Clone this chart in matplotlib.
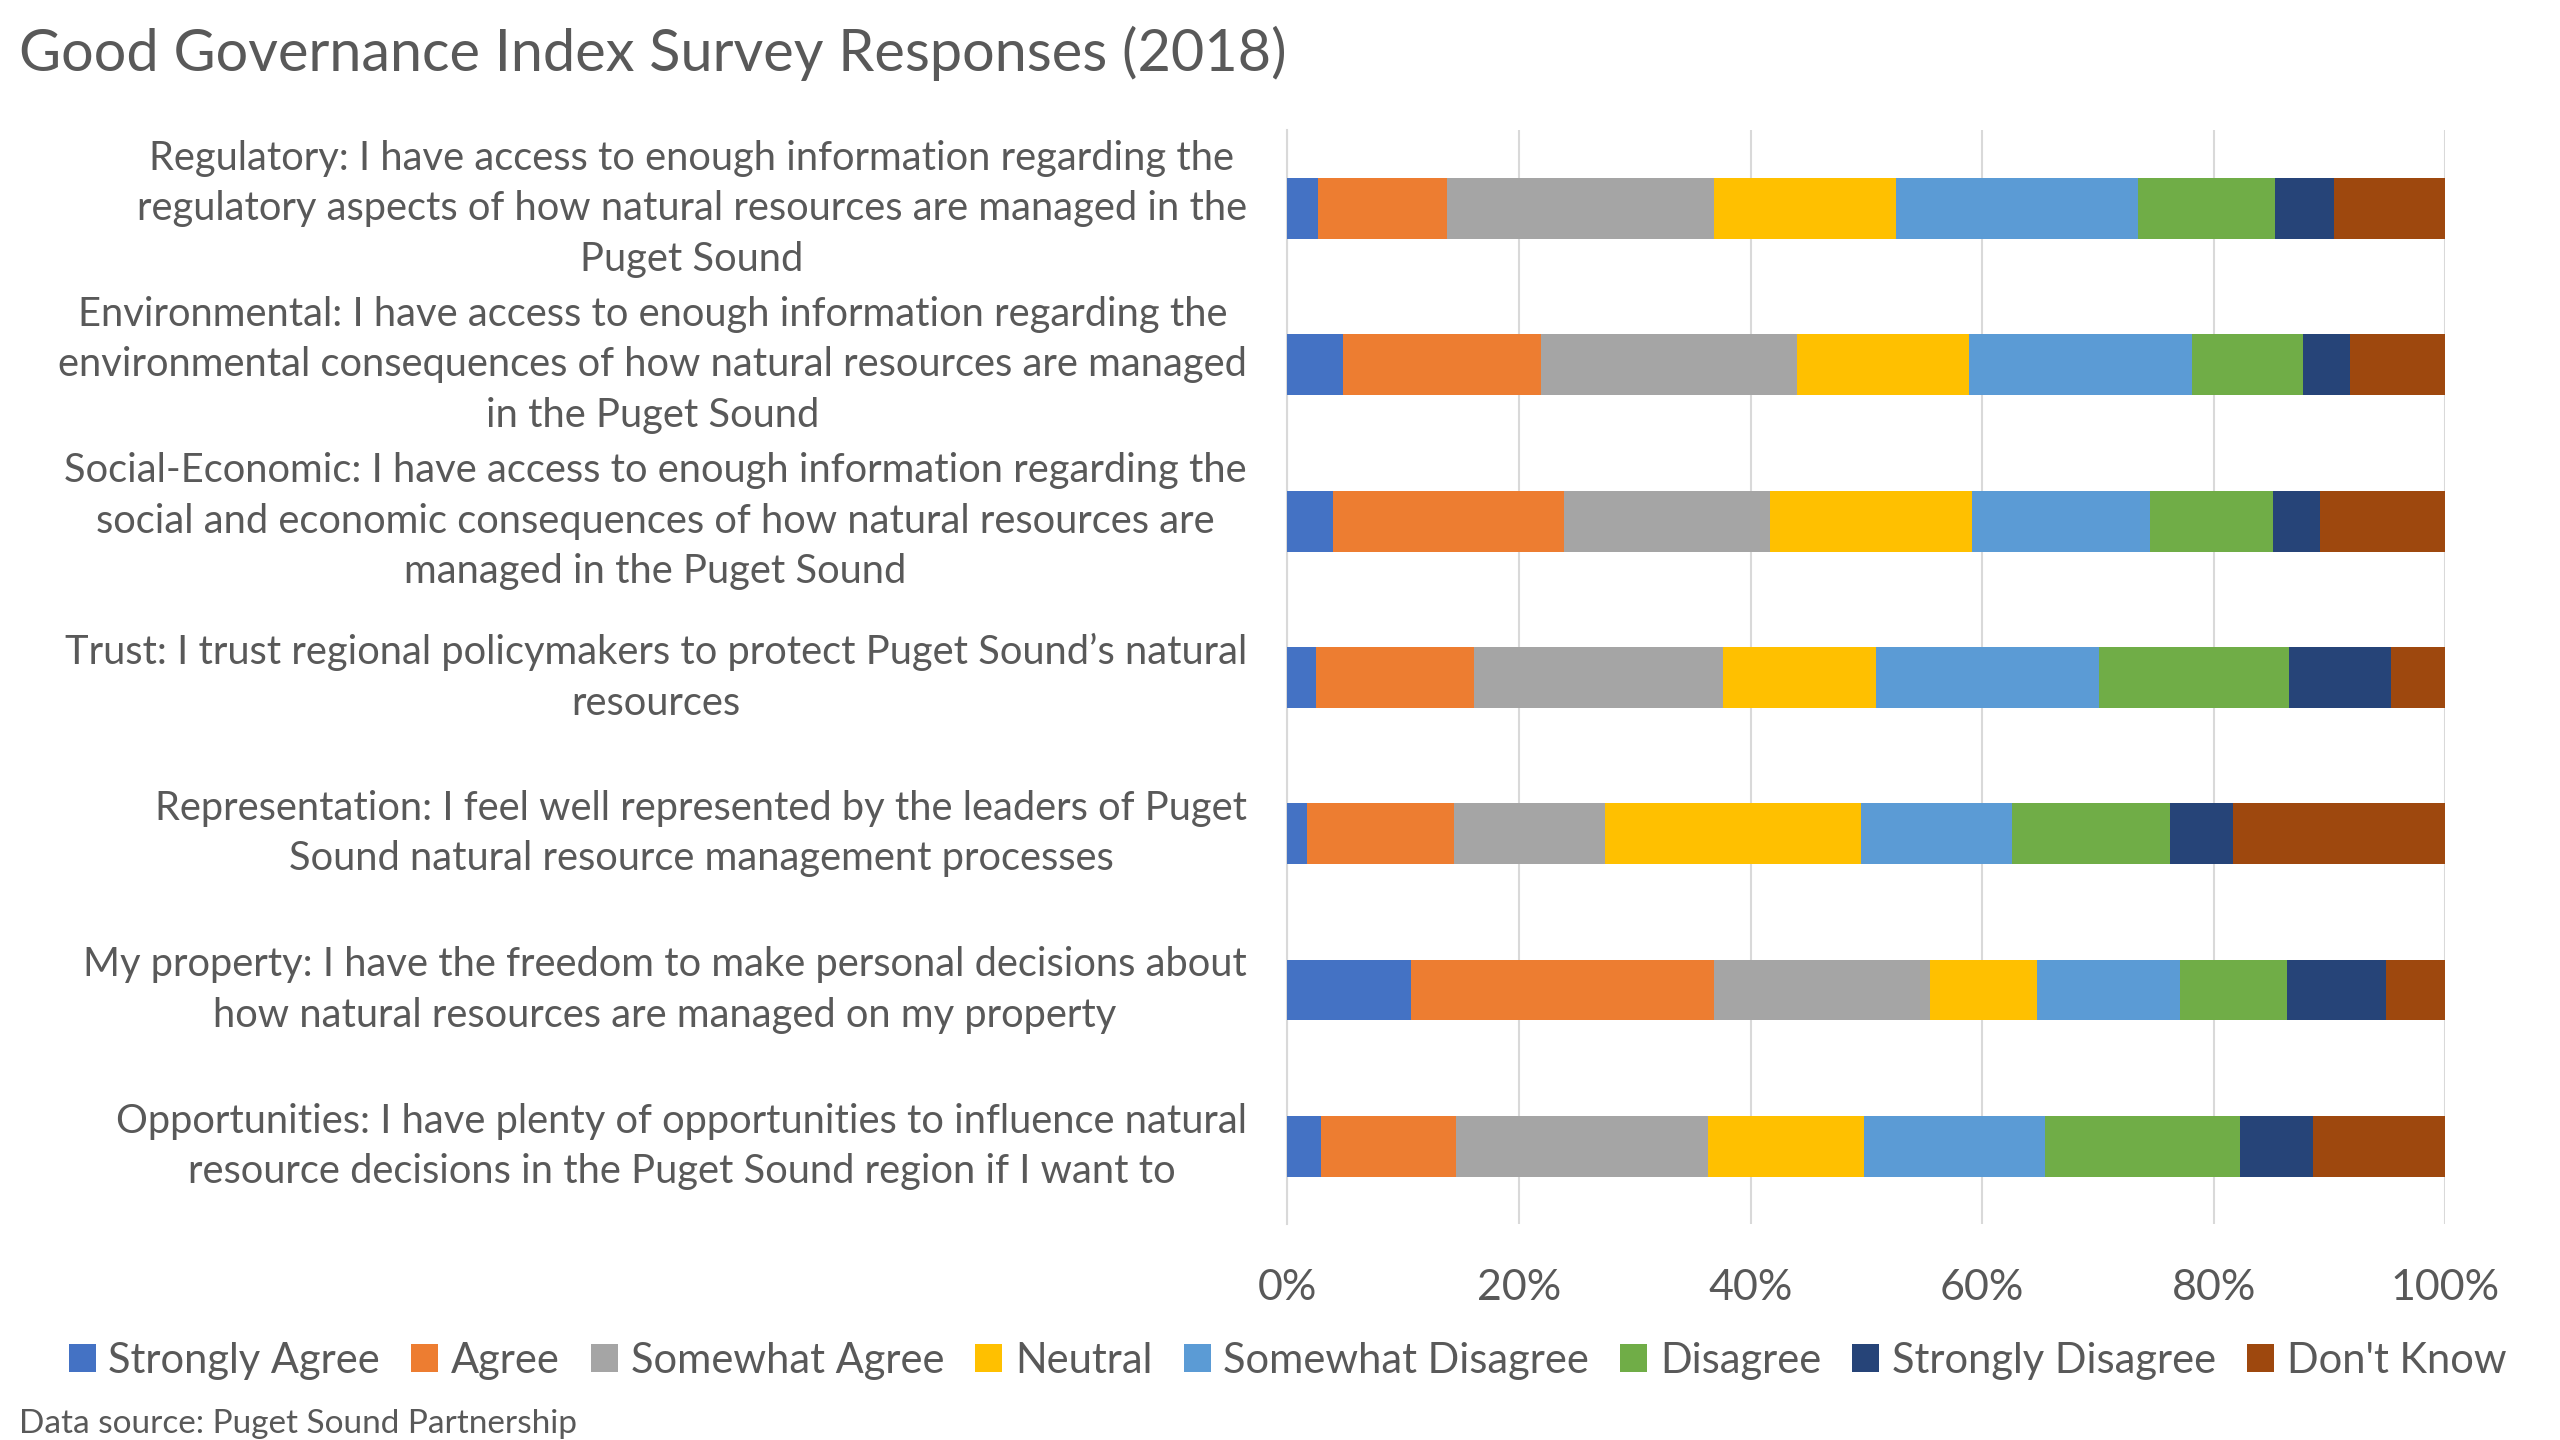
import numpy as np
import matplotlib
matplotlib.use("Agg")
import matplotlib.pyplot as plt

plt.rcParams['font.family'] = ['Lato', 'DejaVu Sans']

# survey questions, top to bottom
questions = [
    "Regulatory: I have access to enough information regarding the\nregulatory aspects of how natural resources are managed in the\nPuget Sound",
    "Environmental: I have access to enough information regarding the\nenvironmental consequences of how natural resources are managed\nin the Puget Sound",
    "Social-Economic: I have access to enough information regarding the\nsocial and economic consequences of how natural resources are\nmanaged in the Puget Sound",
    "Trust: I trust regional policymakers to protect Puget Sound\u2019s natural\nresources",
    "Representation: I feel well represented by the leaders of Puget\nSound natural resource management processes",
    "My property: I have the freedom to make personal decisions about\nhow natural resources are managed on my property",
    "Opportunities: I have plenty of opportunities to influence natural\nresource decisions in the Puget Sound region if I want to",
]

responses = ["Strongly Agree", "Agree", "Somewhat Agree", "Neutral",
             "Somewhat Disagree", "Disagree", "Strongly Disagree", "Don't Know"]

# share of respondents (%), one list per response, same order as questions
strongly_agree    = [2.6, 4.8, 3.9, 2.5, 1.7, 10.7, 2.9]
agree             = [11.2, 17.1, 20.0, 13.6, 12.7, 26.1, 11.7]
somewhat_agree    = [23.0, 22.1, 17.8, 21.5, 13.0, 18.7, 21.7]
neutral           = [15.8, 14.9, 17.4, 13.2, 22.1, 9.2, 13.5]
somewhat_disagree = [20.9, 19.2, 15.4, 19.3, 13.1, 12.4, 15.6]
disagree          = [11.8, 9.6, 10.6, 16.4, 13.6, 9.2, 16.9]
strongly_disagree = [5.1, 4.1, 4.1, 8.8, 5.5, 8.6, 6.3]
dont_know         = [9.6, 8.2, 10.8, 4.7, 18.3, 5.1, 11.4]

colors = ["#4472C4", "#ED7D31", "#A5A5A5", "#FFC000",
          "#5B9BD5", "#70AD47", "#264478", "#9E480E"]

series = [strongly_agree, agree, somewhat_agree, neutral,
          somewhat_disagree, disagree, strongly_disagree, dont_know]

txt = "#595959"

fig = plt.figure(figsize=(25.6, 14.4), dpi=100)
ax = fig.add_axes([0.5029, 0.1497, 0.4523, 0.7597])

y = np.arange(len(questions))
data = np.array(series, dtype=float)
data = data / data.sum(axis=0) * 100  # 100% stacked
left = np.zeros(len(questions))
for vals, name, c in zip(data, responses, colors):
    ax.barh(y, vals, left=left, height=0.39, color=c, label=name, zorder=3)
    left += vals

ax.set_xlim(0, 100)
ax.set_ylim(len(questions) - 0.5, -0.5)
ax.set_xticks(np.arange(0, 101, 20))
ax.set_xticklabels([f"{v}%" for v in range(0, 101, 20)])
ax.tick_params(axis='x', length=0, pad=32, labelsize=31, labelcolor=txt)
ax.set_yticks(y)
ax.set_yticklabels([])
ax.tick_params(axis='y', length=0)
ax.grid(axis='x', color="#D9D9D9", linewidth=1.5, zorder=0)
for s in ['top', 'right', 'bottom']:
    ax.spines[s].set_visible(False)
ax.spines['left'].set_color("#D9D9D9")
ax.spines['left'].set_linewidth(1.5)

for yi, q in zip(y, questions):
    ax.text(-0.035, yi, q, transform=ax.get_yaxis_transform(), ha='right',
            va='center', multialignment='center', fontsize=28.7, color=txt,
            linespacing=1.45)

fig.text(0.0075, 0.963, "Good Governance Index Survey Responses (2018)",
         fontsize=41.5, color=txt, ha='left', va='center')

fig.legend(loc='center', bbox_to_anchor=(0.503, 0.055), ncol=8,
           frameon=False, fontsize=30, labelcolor=txt, handlelength=0.65,
           handleheight=0.65, handletextpad=0.3, columnspacing=0.75)

fig.text(0.0075, 0.011, "Data source: Puget Sound Partnership",
         fontsize=24, color=txt, ha='left', va='center')

fig.savefig("out.png", dpi=100)
